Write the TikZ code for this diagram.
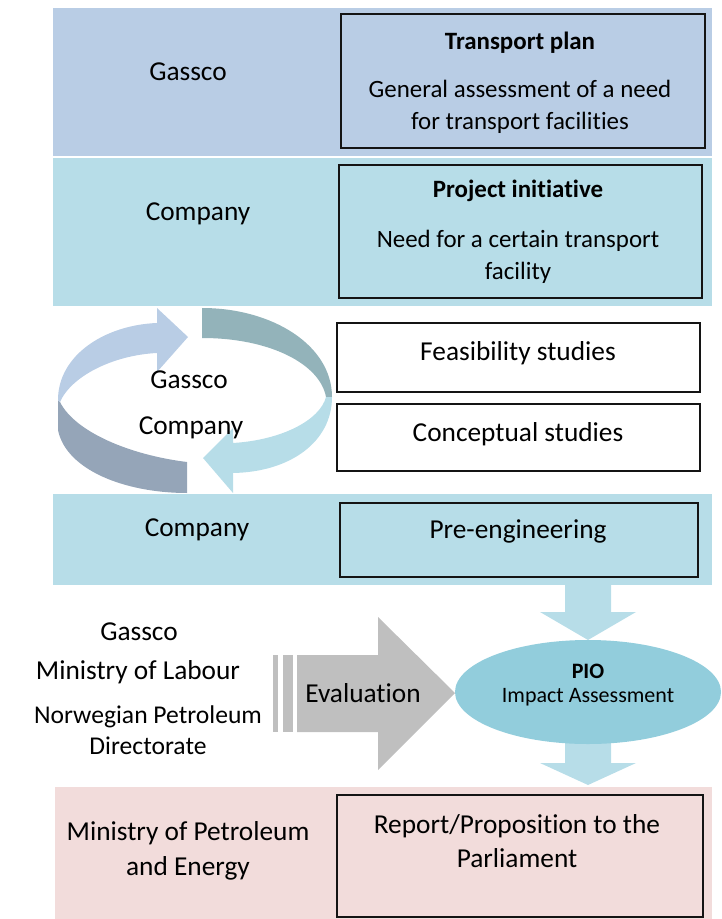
\documentclass[tikz,border=0pt]{standalone}
\usepackage{fontspec}
\setmainfont{Carlito}[Ligatures=NoCommon]

\definecolor{gasscoblue}{RGB}{185,205,229}
\definecolor{companycyan}{RGB}{183,221,232}
\definecolor{ministrypink}{RGB}{242,220,219}
\definecolor{piocyan}{RGB}{146,205,220}
\definecolor{evalgray}{RGB}{191,191,191}
\definecolor{loopteal}{RGB}{147,179,186}
\definecolor{loopslate}{RGB}{149,165,184}
\definecolor{boxline}{RGB}{20,20,20}

\tikzset{every picture/.style={line width=0.75pt},
  txt/.style={inner sep=0.75pt, align=center, font=\fontsize{20.5}{26}\selectfont},
  boxtxt/.style={txt, font=\fontsize{18.7}{24}\selectfont},
  piotxt/.style={inner sep=0.75pt, align=center, font=\fontsize{16.5}{20}\selectfont},
  pbox/.style={draw=boxline, line width=1.5pt}}

\begin{document}
\begin{tikzpicture}[x=0.75pt,y=0.75pt,yscale=-1]
\useasboundingbox (0,0) rectangle (721,919);

%Shape: Rectangle (Gassco band)
\fill [gasscoblue] (53,8) rectangle (712,156);
%Shape: Rectangle
\draw [pbox] (341,14) rectangle (705,148);
%Shape: Rectangle (Company band)
\fill [companycyan] (53,158) rectangle (712,306);
%Shape: Rectangle
\draw [pbox] (339,165) rectangle (702,298);

%Shape: Rectangle
\draw [pbox, fill=white] (337,323) rectangle (700,392);
%Shape: Rectangle
\draw [pbox, fill=white] (337,404) rectangle (700,471);

%Shape: Loop arrow, lower left
\fill [loopslate] (58,400) -- (58,430) .. controls (66,470) and (125,493) .. (187,493) -- (187,462) .. controls (130,455) and (75,432) .. (60,402) -- cycle;
%Shape: Loop arrow, upper left
\fill [gasscoblue] (58,400) .. controls (58,355) and (105,325) .. (157,323) -- (157,308) -- (188,337) -- (157,372) -- (157,353) .. controls (115,355) and (72,375) .. (60,402) -- cycle;
%Shape: Loop arrow, upper right
\fill [loopteal] (202,308) .. controls (272,308) and (332,345) .. (332,397) -- (326,397) .. controls (320,364) and (270,338) .. (202,338) -- cycle;
%Shape: Loop arrow, lower right
\fill [companycyan] (332,397) .. controls (332,442) and (290,472) .. (233,473) -- (233,493) -- (203,458) -- (233,428) -- (233,443) .. controls (282,440) and (320,420) .. (326,397) -- cycle;

%Shape: Rectangle (Pre-engineering band)
\fill [companycyan] (53,494) rectangle (712,585);
%Shape: Rectangle
\draw [pbox] (340,503) rectangle (698,577);

%Shape: Down arrow
\fill [companycyan] (565,585) -- (611,585) -- (611,612) -- (636,612) -- (588,640) -- (540,612) -- (565,612) -- cycle;
%Shape: Down arrow
\fill [companycyan] (565,740) -- (611,740) -- (611,763) -- (636,763) -- (588,785) -- (540,763) -- (565,763) -- cycle;
%Shape: Ellipse
\fill [piocyan] (588,692) ellipse [x radius=133, y radius=52];

%Shape: Evaluation arrow
\fill [evalgray] (273,655) rectangle (278,732);
\fill [evalgray] (283,655) rectangle (293,732);
\fill [evalgray] (297,655) -- (378,655) -- (378,617) -- (455,693) -- (378,770) -- (378,732) -- (297,732) -- cycle;

%Shape: Rectangle (Ministry band)
\fill [ministrypink] (55,787) rectangle (712,919);
%Shape: Rectangle
\draw [pbox] (337,795) rectangle (703,917);

% Text Node
\draw (188,72) node (gassco) [txt] {Gassco};
% Text Node
\draw (520,43) node (transport) [boxtxt] {\textbf{Transport plan}};
% Text Node
\draw (520,107) node (assess) [boxtxt] {General assessment of a need\\for transport facilities};
% Text Node
\draw (198,214) node (company) [txt] {Company};
% Text Node
\draw (518,191) node (initiative) [boxtxt] {\textbf{Project initiative}};
% Text Node
\draw (518,257) node (need) [boxtxt] {Need for a certain transport\\facility};
% Text Node
\draw (518,353) node (feasibility) [txt] {Feasibility studies};
% Text Node
\draw (518,434) node (conceptual) [txt] {Conceptual studies};
% Text Node
\draw (189,380) node (loopgassco) [txt] {Gassco};
% Text Node
\draw (191,428) node (loopcompany) [txt] {Company};
% Text Node
\draw (197,530) node (precompany) [txt] {Company};
% Text Node
\draw (518,531) node (preeng) [txt] {Pre-engineering};
% Text Node
\draw (588,671) node (pio) [piotxt] {\textbf{PIO}};
% Text Node
\draw (588,697) node (impact) [piotxt] {Impact Assessment};
% Text Node
\draw (363,693) node (evaluation) [txt] {Evaluation};
% Text Node
\draw (139,632) node (evalgassco) [txt] {Gassco};
% Text Node
\draw (138,672) node (labour) [txt] {Ministry of Labour};
% Text Node
\draw (148,730) node (npd) [txt, font=\fontsize{19.2}{23.5}\selectfont] {Norwegian Petroleum\\Directorate};
% Text Node
\draw (188,851) node (petroleum) [txt] {Ministry of Petroleum\\and Energy};
% Text Node
\draw (517,841) node (report) [txt] {Report/Proposition to the\\Parliament};

\end{tikzpicture}
\end{document}
